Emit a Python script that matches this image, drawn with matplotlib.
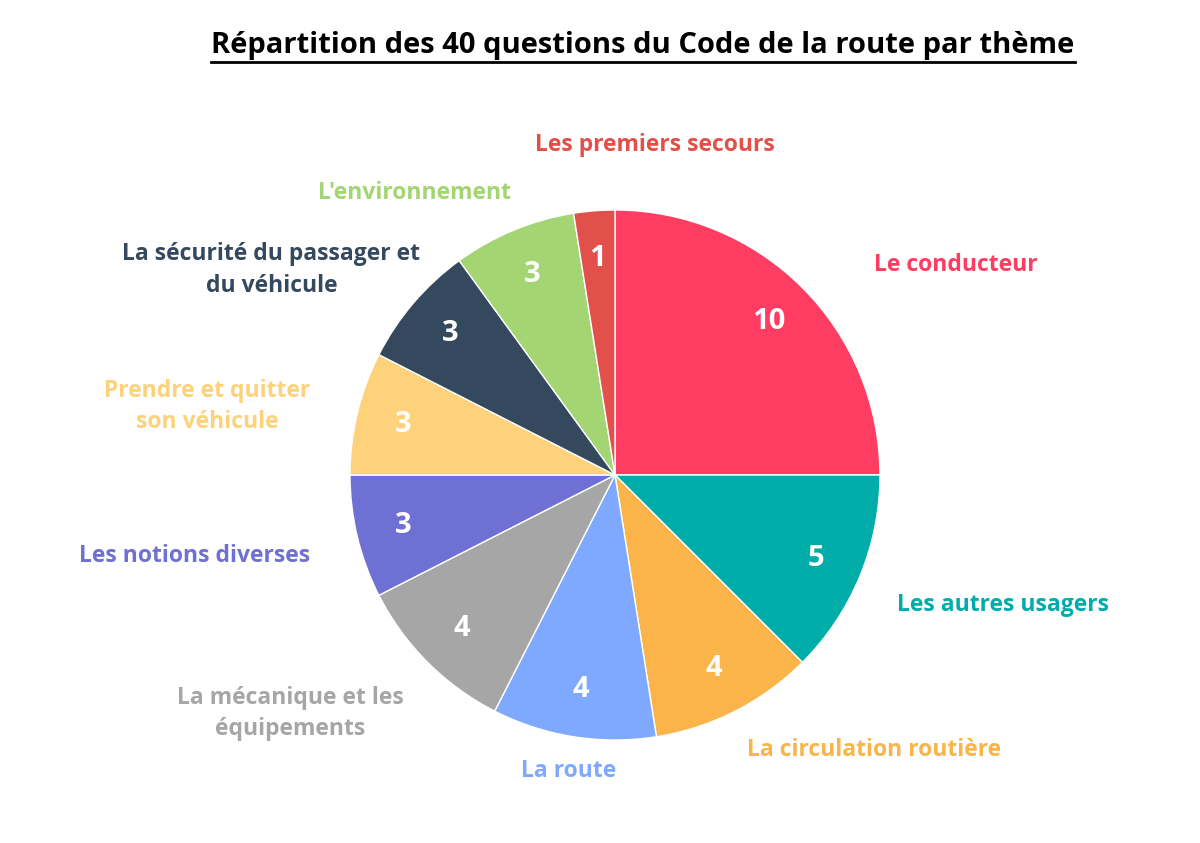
import numpy as np
import matplotlib.pyplot as plt

# Data (clockwise from 12 o'clock)
themes = [
    "Le conducteur",
    "Les autres usagers",
    "La circulation routière",
    "La route",
    "La mécanique et les\néquipements",
    "Les notions diverses",
    "Prendre et quitter\nson véhicule",
    "La sécurité du passager et\ndu véhicule",
    "L'environnement",
    "Les premiers secours",
]
questions = [10, 5, 4, 4, 4, 3, 3, 3, 3, 1]
colors = ["#FF3D63", "#00ADA9", "#FBB44A", "#7FA9FF", "#A6A6A6",
          "#6E70D4", "#FDD27A", "#34495E", "#A3D573", "#E2504C"]

# small label nudges (in pie radius units)
nudges = [(0.18, -0.005), (0.02, -0.06), (-0.015, -0.03), (0.0, 0.0), (0.0, -0.1),
          (-0.05, -0.04), (-0.05, -0.005), (0.125, 0.04), (0.04, 0.02), (0.24, 0.12)]

plt.rcParams['font.family'] = ['Open Sans', 'DejaVu Sans']

W, H = 1200, 843
cx, cy, R = 615, 475, 265
fig = plt.figure(figsize=(W / 100, H / 100), dpi=100)
ax = fig.add_axes([0, 0, 1, 1])

wedges, _, autotexts = ax.pie(
    questions, colors=colors, startangle=90, counterclock=False,
    autopct=lambda p: f"{round(p * sum(questions) / 100)}", pctdistance=0.82,
    wedgeprops=dict(edgecolor='white', linewidth=1),
    textprops=dict(color='white', fontsize=21, fontweight='bold'))

for w, label, col, (nx, ny) in zip(wedges, themes, colors, nudges):
    theta = np.deg2rad((w.theta1 + w.theta2) / 2)
    x, y = 1.13 * np.cos(theta), 1.13 * np.sin(theta)
    if np.cos(theta) > 0.25:
        ha = 'left'
    elif np.cos(theta) < -0.25:
        ha = 'right'
    else:
        ha = 'center'
    ax.text(x + nx, y + ny, label, ha=ha, va='center', multialignment='center',
            color=col, fontsize=16.5, fontweight='bold', linespacing=1.4)

ax.set_xlim(-cx / R, (W - cx) / R)
ax.set_ylim(-(H - cy) / R, cy / R)
ax.set_aspect('auto')
ax.axis('off')

title = fig.text(643 / W, 1 - 46 / H, "Répartition des 40 questions du Code de la route par thème",
                 ha='center', va='center', fontsize=21, fontweight='bold', color='black')
fig.canvas.draw()
bb = title.get_window_extent()
uy = bb.y0 - 1
fig.add_artist(plt.Line2D([bb.x0 / W, bb.x1 / W], [uy / H, uy / H], color='black', linewidth=2))

fig.savefig("out.png", dpi=100, facecolor='white')
